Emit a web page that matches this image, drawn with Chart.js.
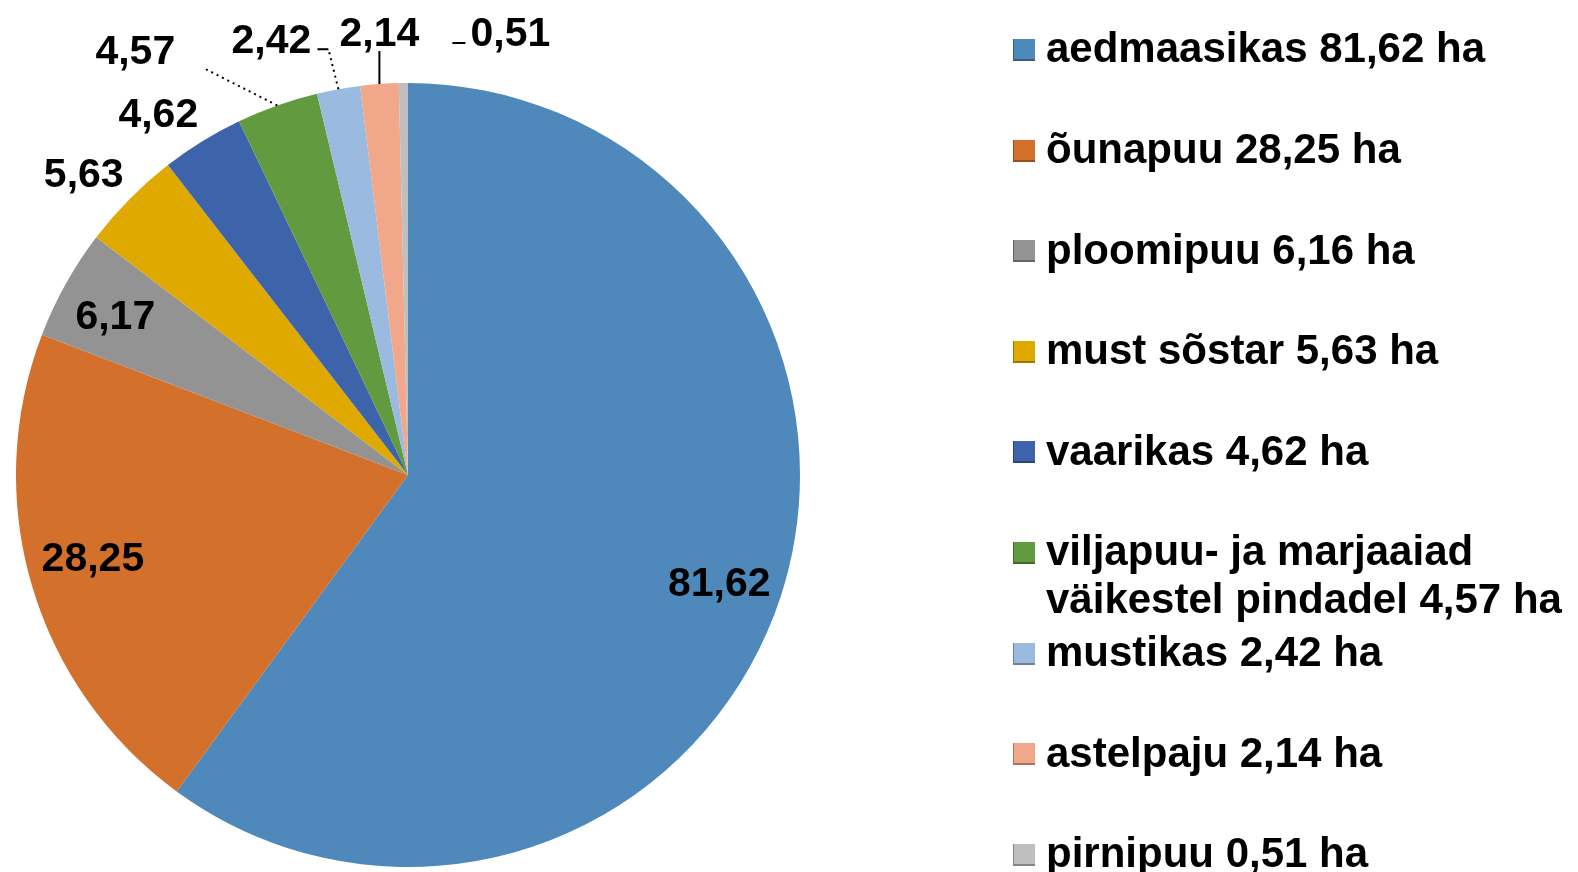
<!DOCTYPE html>
<html>
<head>
<meta charset="utf-8">
<script src="https://cdn.jsdelivr.net/npm/chart.js@4.4.1/dist/chart.umd.min.js"></script>
<style>
  html, body { margin: 0; padding: 0; background: #fff; }
  #wrap { position: relative; width: 1578px; height: 872px; overflow: hidden; }
  #c { position: absolute; left: 0; top: 0; }
  #legend { position: absolute; left: 1013px; top: 39px; font-family: "Liberation Sans", Arial, sans-serif; font-weight: bold; font-size: 42px; color: #000; }
  .row { position: relative; height: 100.6px; }
  .sw { position: absolute; left: 0; top: 0; width: 22px; height: 22px; box-shadow: inset 1px -2px 0 rgba(0,0,0,0.3); }
  .tx { position: absolute; left: 33px; top: -14.6px; line-height: 48px; white-space: pre; }
</style>
</head>
<body>
<div id="wrap">
  <canvas id="c" width="1578" height="872"></canvas>
  <div id="legend"></div>
</div>
<script>
const categories = ["aedmaasikas", "õunapuu", "ploomipuu", "must sõstar", "vaarikas", "viljapuu- ja marjaaiad\nväikestel pindadel", "mustikas", "astelpaju", "pirnipuu"];
const values = [81.62, 28.25, 6.17, 5.63, 4.62, 4.57, 2.42, 2.14, 0.51];
const legendValues = [81.62, 28.25, 6.16, 5.63, 4.62, 4.57, 2.42, 2.14, 0.51];
const colors = ["#4F88BB", "#D2702C", "#939393", "#E0A900", "#3D64AA", "#629A3F", "#9BBAE0", "#F0A78A", "#BFBFBF"];
const unit = "ha";

const fmt = v => v.toFixed(2).replace(".", ",");

// legend
const leg = document.getElementById("legend");
categories.forEach((c, i) => {
  const row = document.createElement("div");
  row.className = "row";
  const sw = document.createElement("div");
  sw.className = "sw";
  sw.style.background = colors[i];
  const tx = document.createElement("div");
  tx.className = "tx";
  tx.textContent = c + " " + fmt(legendValues[i]) + " " + unit;
  row.appendChild(sw);
  row.appendChild(tx);
  leg.appendChild(row);
});

// label layout: inside labels use radius fraction (+ small nudge), outside labels use offset from arc outer midpoint
const labelLayout = [
  { inside: 0.83, dx: 2, dy: 5 },
  { inside: 0.83, dx: -3, dy: -11 },
  { inside: 0.855, dx: 0, dy: 2 },
  { dx: -46, dy: -27 },
  { dx: -44, dy: -29 },
  { dx: -142, dy: -56, leader: [[[0,0],[-73,-37]], true] },
  { dx: -67, dy: -51, leader: [[[0,0],[-10,-40]], true], leader2: [[[-10,-40],[-21,-40]], false] },
  { dx: 0, dy: -53, leader: [[[0,0],[0,-33]], false] },
  { dx: 107, dy: -52, leader: [[[49,-40],[62,-40]], false] }
];

const labelPlugin = {
  id: "pieLabels",
  afterDatasetsDraw(chart) {
    const ctx = chart.ctx;
    const meta = chart.getDatasetMeta(0);
    ctx.save();
    ctx.font = "bold 41px 'Liberation Sans', Arial, sans-serif";
    ctx.fillStyle = "#000";
    ctx.textAlign = "center";
    ctx.textBaseline = "alphabetic";
    meta.data.forEach((arc, i) => {
      const p = arc.getProps(["x", "y", "startAngle", "endAngle", "outerRadius"], true);
      const mid = (p.startAngle + p.endAngle) / 2;
      const L = labelLayout[i];
      let lx, ly;
      const ox = p.x + Math.cos(mid) * p.outerRadius;
      const oy = p.y + Math.sin(mid) * p.outerRadius;
      if (L.inside) {
        lx = p.x + Math.cos(mid) * p.outerRadius * L.inside + L.dx;
        ly = p.y + Math.sin(mid) * p.outerRadius * L.inside + L.dy;
      } else {
        lx = ox + L.dx;
        ly = oy + L.dy;
      }
      [L.leader, L.leader2].forEach(ld => {
        if (!ld) return;
        const pts = ld[0];
        ctx.beginPath();
        ctx.strokeStyle = "#000";
        ctx.lineWidth = 2;
        ctx.setLineDash(ld[1] ? [2, 4] : []);
        ctx.moveTo(ox + pts[0][0], oy + pts[0][1]);
        for (let k = 1; k < pts.length; k++) ctx.lineTo(ox + pts[k][0], oy + pts[k][1]);
        ctx.stroke();
      });
      ctx.setLineDash([]);
      ctx.fillText(fmt(values[i]), lx, ly + 15);
    });
    ctx.restore();
  }
};

new Chart(document.getElementById("c"), {
  type: "pie",
  data: {
    labels: categories,
    datasets: [{
      data: values,
      backgroundColor: colors,
      borderWidth: 0
    }]
  },
  options: {
    responsive: false,
    animation: false,
    layout: { padding: { left: 16, top: 83, right: 778, bottom: 5 } },
    plugins: {
      legend: { display: false },
      tooltip: { enabled: false }
    }
  },
  plugins: [labelPlugin]
});
</script>
</body>
</html>
